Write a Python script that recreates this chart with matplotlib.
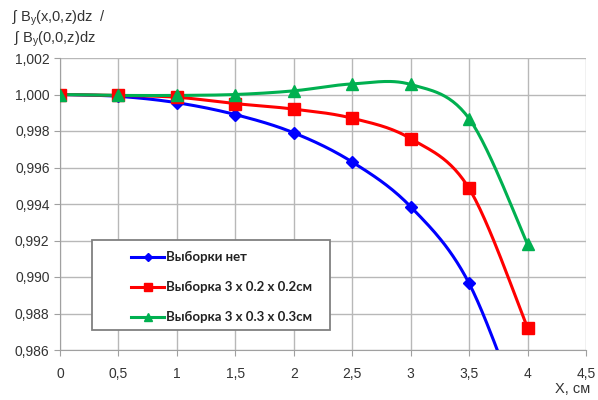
import numpy as np
import matplotlib
matplotlib.use("Agg")
import matplotlib.pyplot as plt
from matplotlib.ticker import FuncFormatter, MultipleLocator
from matplotlib.patches import Rectangle

x = [0, 0.5, 1, 1.5, 2, 2.5, 3, 3.5, 4]
no_cut = [1.0000, 0.99990, 0.99955, 0.99890, 0.99790, 0.99630, 0.99385, 0.98965, 0.9815]
cut_02 = [1.0000, 0.99995, 0.99985, 0.99950, 0.99920, 0.99870, 0.99758, 0.99485, 0.98722]
cut_03 = [1.0000, 0.99995, 0.99995, 1.00000, 1.00020, 1.00058, 1.00055, 0.99868, 0.99180]
labels = ["Выборки нет", "Выборка 3 x 0.2 x 0.2см", "Выборка 3 x 0.3 x 0.3см"]
colors = ["#0000ff", "#ff0000", "#00b050"]
markers = ["D", "s", "^"]
msizes = [6, 8, 8.5]

plt.rcParams["font.family"] = ["Liberation Sans", "DejaVu Sans"]
plt.rcParams["mathtext.fontset"] = "custom"
plt.rcParams["mathtext.rm"] = "Liberation Sans"
plt.rcParams["mathtext.it"] = "Liberation Sans"


def smooth(xs, ys, n=30):
    xs = np.asarray(xs, float); ys = np.asarray(ys, float)
    P = np.column_stack([xs, ys])
    P = np.vstack([P[0], P, P[-1]])
    out = []
    for i in range(1, len(P) - 2):
        p0, p1, p2, p3 = P[i - 1], P[i], P[i + 1], P[i + 2]
        c1 = p1 + (p2 - p0) / 6
        c2 = p2 - (p3 - p1) / 6
        t = np.linspace(0, 1, n)[:, None]
        seg = (1 - t) ** 3 * p1 + 3 * (1 - t) ** 2 * t * c1 + 3 * (1 - t) * t ** 2 * c2 + t ** 3 * p2
        out.append(seg if i == 1 else seg[1:])
    s = np.vstack(out)
    return s[:, 0], s[:, 1]


W, H = 598, 400
fig = plt.figure(figsize=(W / 100, H / 100), dpi=100)
ax = fig.add_axes([60 / W, 1 - 350 / H, 526 / W, 292 / H])

for ys, c, m, ms in zip([no_cut, cut_02, cut_03], colors, markers, msizes):
    sx, sy = smooth(x, ys)
    ax.plot(sx, sy, color=c, lw=2.2, zorder=3)
    ax.plot(x, ys, linestyle="none", marker=m, color=c, markersize=ms, zorder=4)

ax.set_xlim(0, 4.5)
ax.set_ylim(0.986, 1.002)
ax.xaxis.set_major_locator(MultipleLocator(0.5))
ax.yaxis.set_major_locator(MultipleLocator(0.002))
ax.xaxis.set_major_formatter(FuncFormatter(lambda v, p: ("%g" % v).replace(".", ",")))
ax.yaxis.set_major_formatter(FuncFormatter(lambda v, p: ("%.3f" % v).replace(".", ",")))
ax.grid(True, color="#b8b8b8", lw=1.0)
ax.set_axisbelow(True)
for s in ["top", "right"]:
    ax.spines[s].set_visible(False)
for s in ["left", "bottom"]:
    ax.spines[s].set_color("#a0a0a0")
ax.tick_params(axis="both", colors="#a0a0a0", labelcolor="#333333", labelsize=10, length=4)
ax.tick_params(axis="x", pad=8)

# legend box (figure pixel coordinates)
fig.patches.append(Rectangle((92 / W, 1 - 330 / H), 238 / W, 90 / H, transform=fig.transFigure,
                             facecolor="white", edgecolor="#808080", lw=1.3, zorder=5))
ys_leg = [257, 287, 317]
for yl, c, m, ms, lab in zip(ys_leg, colors, markers, msizes, labels):
    yf = 1 - yl / H
    fig.add_artist(plt.Line2D([131 / W, 164 / W], [yf, yf], color=c, lw=2.2, zorder=6))
    fig.add_artist(plt.Line2D([147.5 / W], [yf], marker=m, color=c, markersize=ms * 0.75, zorder=7))
    fig.text(166 / W, yf, lab, fontsize=9.5, fontweight="bold", family=["Lato", "DejaVu Sans"],
             color="#222222", va="center", zorder=7)

fig.text(12 / W, 1 - 18 / H, r"ʃ B$_y$(x,0,z)dz  /", fontsize=10.5, color="#333333", va="center")
fig.text(14 / W, 1 - 39 / H, r"ʃ B$_y$(0,0,z)dz", fontsize=10.5, color="#333333", va="center")
fig.text(555 / W, 1 - 389 / H, "X, см", fontsize=10.5, color="#333333", va="center")

fig.savefig("out.png", dpi=100)
